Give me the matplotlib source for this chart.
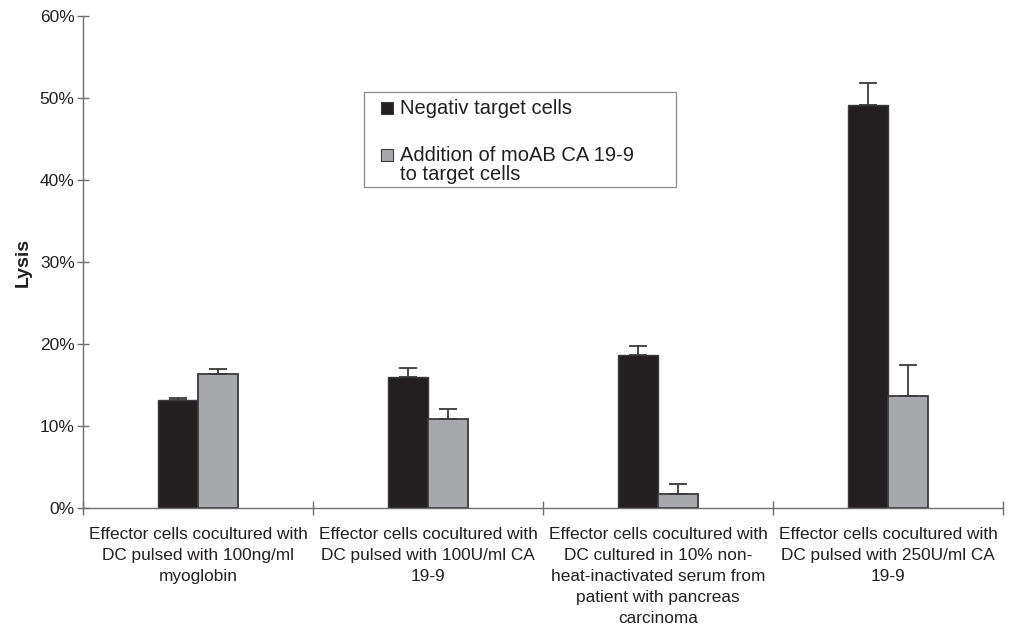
import matplotlib
matplotlib.use("Agg")
import matplotlib.pyplot as plt
from matplotlib import font_manager
from matplotlib.ticker import FuncFormatter, FixedLocator
from matplotlib.patches import Rectangle

# Lysis (%) per effector condition
categories = [
    "Effector cells cocultured with\nDC pulsed with 100ng/ml\nmyoglobin",
    "Effector cells cocultured with\nDC pulsed with 100U/ml CA\n19-9",
    "Effector cells cocultured with\nDC cultured in 10% non-\nheat-inactivated serum from\npatient with pancreas\ncarcinoma",
    "Effector cells cocultured with\nDC pulsed with 250U/ml CA\n19-9",
]
negative_target = [13.2, 16.0, 18.6, 49.1]
negative_err = [0.2, 1.1, 1.2, 2.7]
with_moab = [16.3, 10.8, 1.7, 13.7]
with_moab_err = [0.6, 1.3, 1.2, 3.7]
series_labels = ["Negativ target cells", "Addition of moAB CA 19-9\nto target cells"]
y_ticks = [0, 10, 20, 30, 40, 50, 60]

installed = {f.name for f in font_manager.fontManager.ttflist}
base_font = "Liberation Sans" if "Liberation Sans" in installed else "DejaVu Sans"
plt.rcParams["font.family"] = [base_font, "DejaVu Sans"]

text_col = "#231f20"
axis_col = "#6d6e71"
dark = "#231f20"
grey = "#a7a9ac"
edge = "#3a3a3c"

W, H = 1011, 627
fig = plt.figure(figsize=(W / 100, H / 100), dpi=100)
ax = fig.add_axes([83 / W, 1 - 508 / H, (1003 - 83) / W, (508 - 16) / H])

x = list(range(len(categories)))
w = 0.174
err_kw = dict(ecolor=edge, elinewidth=1.3, capsize=6.5, capthick=1.3)

ax.bar([i - w / 2 for i in x], negative_target, width=w, color=dark,
       edgecolor=edge, linewidth=1.0,
       yerr=[[0] * len(x), negative_err], error_kw=err_kw, zorder=2)
ax.bar([i + w / 2 for i in x], with_moab, width=w, color=grey,
       edgecolor=edge, linewidth=1.3,
       yerr=[[0] * len(x), with_moab_err], error_kw=err_kw, zorder=2)

ax.set_xlim(-0.5, len(categories) - 0.5)
ax.set_ylim(0, 60)

for s in ("top", "right"):
    ax.spines[s].set_visible(False)
for s in ("left", "bottom"):
    ax.spines[s].set_color(axis_col)
    ax.spines[s].set_linewidth(1.0)

ax.yaxis.set_major_locator(FixedLocator(y_ticks))
ax.yaxis.set_major_formatter(FuncFormatter(lambda v, p: f"{v:.0f}%"))
ax.tick_params(axis="y", direction="inout", length=8, width=1.0, color=axis_col,
               labelsize=12.5, labelcolor=text_col, pad=2)

# category separators on the x axis
ax.xaxis.set_major_locator(FixedLocator([i - 0.5 for i in range(len(categories) + 1)]))
ax.xaxis.set_major_formatter(FuncFormatter(lambda v, p: ""))
ax.tick_params(axis="x", direction="inout", length=10, width=1.0, color=axis_col)

for i, lab in enumerate(categories):
    ax.text(i, -2.35, lab, ha="center", va="top", color=text_col,
            fontsize=12.4, linespacing=1.5)

ax.set_ylabel("Lysis", fontsize=14, fontweight="bold", color=text_col)
ax.yaxis.set_label_coords(-0.056, 0.5)

# legend box: handles sit on the first line of each entry
px = lambda xp, yp: (xp / W, 1 - yp / H)
fig.patches.append(Rectangle(px(364, 187), (676 - 364) / W, (187 - 92) / H,
                             transform=fig.transFigure, facecolor="white",
                             edgecolor="#8a8a8a", linewidth=0.9, zorder=5))
swatch_w, swatch_h = 12 / W, 12 / H
entry_baselines = [114, 160.7]
line_step = 19.3
for base, col, lab in zip(entry_baselines, [dark, grey], series_labels):
    fig.patches.append(Rectangle(px(381, base), swatch_w, swatch_h,
                                 transform=fig.transFigure, facecolor=col,
                                 edgecolor=edge, linewidth=0.8, zorder=6))
    for k, line in enumerate(lab.split("\n")):
        fig.text(*px(400, base + k * line_step), line, ha="left", va="baseline",
                 fontsize=14.5, color=text_col, zorder=7)

fig.savefig("out.png", dpi=100, facecolor="white")
